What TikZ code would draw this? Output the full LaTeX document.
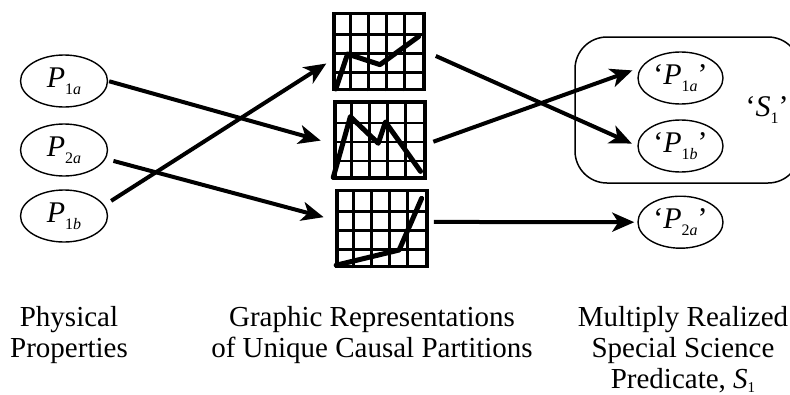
\documentclass[tikz,border=0pt]{standalone}
\usepackage{fontspec}
\setmainfont{Liberation Serif}
\usetikzlibrary{shapes.geometric,arrows.meta}
\newcommand{\psub}[1]{\raisebox{-7pt}{\fontsize{16}{16}\selectfont #1}}
\newcommand{\csub}[1]{\raisebox{-4pt}{\fontsize{15}{15}\selectfont #1}}
\tikzset{
  prop/.style={draw, ellipse, line width=1.4pt, minimum width=87pt, minimum height=52pt, inner sep=0pt, font=\fontsize{30}{30}\selectfont},
  pred/.style={prop, minimum width=85pt},
  chart/.style={draw, line width=3.5pt, minimum width=90pt, minimum height=76pt, inner sep=0pt},
  gridline/.style={line width=2.5pt},
  curve/.style={line width=5pt, line join=round, line cap=round},
  link/.style={line width=4pt, -{Stealth[length=22pt,width=19pt,inset=6pt]}},
  caption/.style={align=center, inner sep=0pt, anchor=north, font=\fontsize{29}{31}\selectfont}
}
\begin{document}
\begin{tikzpicture}[x=1pt,y=-1pt]
            \useasboundingbox (0,0) rectangle (790,394);

            \node[prop] (p1a) at (64,81) {\textit{P}\psub{1\textit{a}}};
            \node[prop] (p2a) at (64,150) {\textit{P}\psub{2\textit{a}}};
            \node[prop] (p1b) at (64,216) {\textit{P}\psub{1\textit{b}}};

            \node[chart] (g1) at (379,51.5) {};
            \node[chart] (g2) at (380,140) {};
            \node[chart] (g3) at (382,228.5) {};
            \foreach \g in {g1,g2,g3}{
              \begin{scope}[shift={(\g.south west)}, x=90pt, y=76pt]
                \foreach \i in {0.2,0.4,0.6,0.8} \draw[gridline] (\i,0) -- (\i,1);
                \foreach \j in {0.25,0.5,0.75} \draw[gridline] (0,\j) -- (1,\j);
              \end{scope}
            }
            \begin{scope}[shift={(g1.south west)}, x=90pt, y=76pt]
              \draw[curve] (0.04,0.03) -- (0.17,0.49) -- (0.53,0.35) -- (0.96,0.72);
            \end{scope}
            \begin{scope}[shift={(g2.south west)}, x=90pt, y=76pt]
              \draw[curve] (0,0.03) -- (0.19,0.83) -- (0.5,0.48) -- (0.58,0.76) -- (0.97,0.11);
            \end{scope}
            \begin{scope}[shift={(g3.south west)}, x=90pt, y=76pt]
              \draw[curve] (0.01,0.04) -- (0.71,0.24) -- (0.96,0.92);
            \end{scope}

            \node[draw, rounded corners=32pt, line width=1.5pt, minimum width=225pt, minimum height=146pt] (sbox) at (687.5,110) {};
            \node[font=\fontsize{30}{30}\selectfont, inner sep=0pt] (s1) at (767,110) {‘\textit{S}\psub{1}’};
            \node[pred] (q1a) at (680.5,78) {‘\textit{P}\psub{1\textit{a}}’};
            \node[pred] (q1b) at (680.5,146) {‘\textit{P}\psub{1\textit{b}}’};
            \node[pred] (q2a) at (680.5,222.2) {‘\textit{P}\psub{2\textit{a}}’};

            \draw[link, shorten <=1pt, shorten >=13pt] (p1a.east) -- (g2.185);
            \draw[link, shorten <=8pt, shorten >=12pt] (p2a.-12) -- (g3.170);
            \draw[link, shorten <=8pt, shorten >=7pt] (p1b.15) -- (g1.190);
            \draw[link, shorten <=11pt, shorten >=6pt] (g1.east) -- (q1b.west);
            \draw[link, shorten <=7pt, shorten >=9pt] (g2.-5) -- (q1a.165);
            \draw[link, shorten <=5pt, shorten >=3pt] (g3.8) -- (q2a.west);

            \node[caption] (lphys) at (69,306) {Physical\\Properties};
            \node[caption] (lgraph) at (372,306) {Graphic Representations\\of Unique Causal Partitions};
            \node[caption] (lpred) at (683,306) {Multiply Realized\\Special Science\\Predicate, \textit{S}\csub{1}};
\end{tikzpicture}
\end{document}
